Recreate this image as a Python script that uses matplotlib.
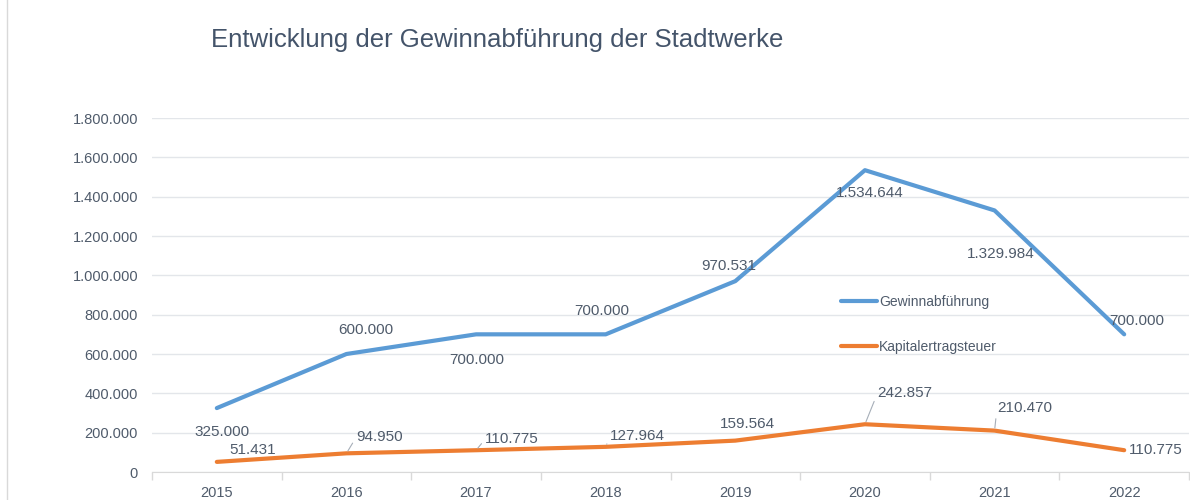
import matplotlib.pyplot as plt
from matplotlib.ticker import FuncFormatter
from matplotlib.lines import Line2D

# data
years = ['2015', '2016', '2017', '2018', '2019', '2020', '2021', '2022']
gewinn = [325000, 600000, 700000, 700000, 970531, 1534644, 1329984, 700000]
kest = [51431, 94950, 110775, 127964, 159564, 242857, 210470, 110775]

# label offsets in pixels (dx, dy), positive dy = up
gewinn_off = [(5, -24), (19, 24), (1, -26), (-4, 23), (-7, 15), (5, -23), (6, -44), (13, 13)]
kest_off = [(36, 12), (33, 16), (36, 11), (32, 11), (12, 17), (40, 31), (30, 23), (32, 0)]
kest_leader = [False, True, True, True, False, True, True, False]

def de_fmt(v):
    return f'{int(round(v)):,}'.replace(',', '.')

blue = '#5B9BD5'
orange = '#ED7D31'
txt = '#4F5B6B'
grid = '#E3E6EA'

plt.rcParams['font.family'] = ['Liberation Sans', 'DejaVu Sans']

fig = plt.figure(figsize=(11.9, 5), dpi=100)
ax = fig.add_axes([152 / 1190, 28 / 500, 1037 / 1190, 354 / 500])

x = list(range(len(years)))
ax.plot(x, gewinn, color=blue, lw=3, solid_capstyle='round', label='Gewinnabführung', zorder=3)
ax.plot(x, kest, color=orange, lw=3, solid_capstyle='round', label='Kapitalertragsteuer', zorder=3)

ax.set_xlim(-0.5, len(years) - 0.5)
ax.set_ylim(0, 1800000)
ax.set_yticks(range(0, 1800001, 200000))
ax.yaxis.set_major_formatter(FuncFormatter(lambda v, p: de_fmt(v)))
ax.grid(axis='y', color=grid, lw=1)
ax.set_axisbelow(True)

ax.set_xticks(x)
ax.set_xticklabels(years)
ax.set_xticks([i - 0.5 for i in range(len(years) + 1)], minor=True)
ax.tick_params(axis='x', which='major', length=0, pad=10, labelsize=10.5, labelcolor=txt)
ax.tick_params(axis='x', which='minor', length=6, color='#D9D9D9', width=1)
ax.tick_params(axis='y', length=0, pad=10, labelsize=10.5, labelcolor=txt)

for s in ['top', 'right', 'left']:
    ax.spines[s].set_visible(False)
ax.spines['bottom'].set_color('#D9D9D9')

# data labels
for i, v in enumerate(gewinn):
    dx, dy = gewinn_off[i]
    ax.annotate(de_fmt(v), (i, v), xytext=(dx, dy), textcoords='offset pixels',
                ha='center', va='center', fontsize=11, color=txt)

for i, v in enumerate(kest):
    dx, dy = kest_off[i]
    if kest_leader[i]:
        ax.annotate(de_fmt(v), (i, v), xytext=(dx, dy), textcoords='offset pixels',
                    ha='center', va='center', fontsize=11, color=txt,
                    arrowprops=dict(arrowstyle='-', color='#A6AEB8', lw=0.8,
                                    shrinkA=1, shrinkB=2, relpos=(0, 0.5)))
    else:
        ax.annotate(de_fmt(v), (i, v), xytext=(dx, dy), textcoords='offset pixels',
                    ha='center', va='center', fontsize=11, color=txt)

leg = ax.legend(loc='upper left', bbox_to_anchor=(0.652, 0.535), frameon=False,
                handlelength=2.6, handletextpad=0.15, labelspacing=2.2,
                fontsize=10, labelcolor=txt)

fig.text(211 / 1190, 1 - 40 / 500, 'Entwicklung der Gewinnabführung der Stadtwerke',
         fontsize=18.5, color='#44546A', ha='left', va='center', fontweight='medium')

fig.add_artist(Line2D([0.006, 0.006], [0, 1], color='#D9D9D9', lw=1))

fig.savefig('out.png', dpi=100)
